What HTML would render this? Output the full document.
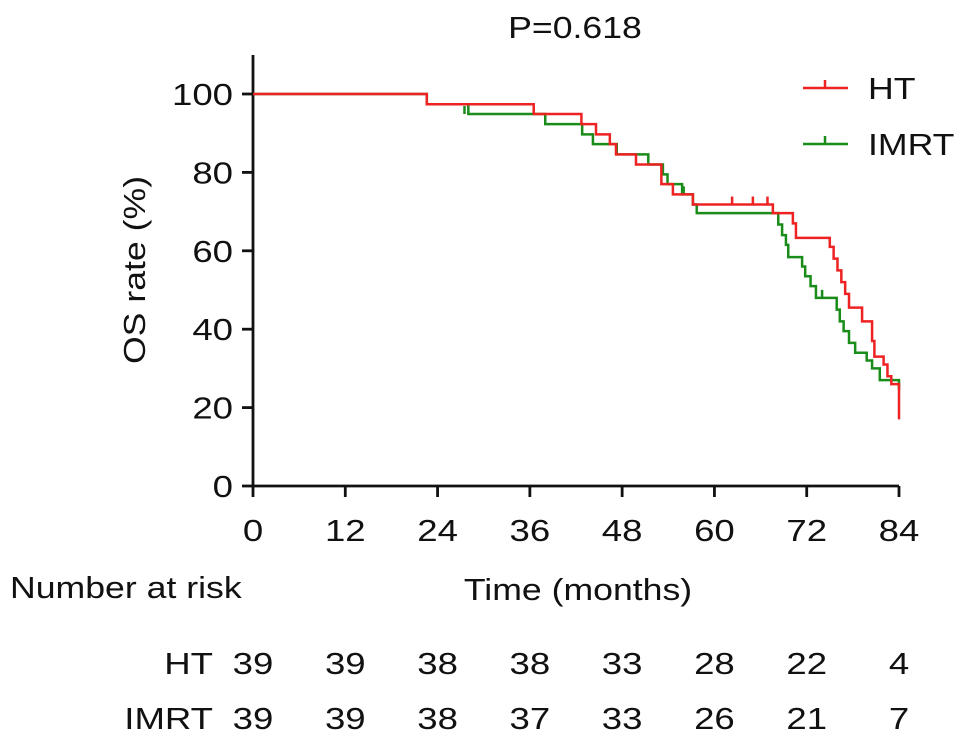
<!DOCTYPE html>
<html><head><meta charset="utf-8"><style>
body{margin:0;background:#fff}
svg text{font-family:"Liberation Sans",Arial,sans-serif;fill:#111}
</style></head><body>
<svg id="chart" width="969" height="741" viewBox="0 0 969 741" xmlns="http://www.w3.org/2000/svg">
<text transform="translate(575,38) scale(1.15,1)" font-size="31" text-anchor="middle">P=0.618</text>
<text transform="translate(145,270) rotate(-90) scale(1.15,1)" font-size="31" text-anchor="middle">OS rate (%)</text>
<text transform="translate(578,600) scale(1.15,1)" font-size="31" text-anchor="middle">Time (months)</text>
<text transform="translate(10,598) scale(1.15,1)" font-size="31">Number at risk</text>
<g id="axes"></g><g id="series"></g><g id="risk"></g>
<g>
<line x1="803" y1="88" x2="848" y2="88" stroke="#ee2222" stroke-width="2.5"/><line x1="825" y1="80" x2="825" y2="88" stroke="#ee2222" stroke-width="2.5"/>
<text transform="translate(868,99) scale(1.15,1)" font-size="31">HT</text>
<line x1="803" y1="144" x2="848" y2="144" stroke="#1a8c1a" stroke-width="2.5"/><line x1="825" y1="136" x2="825" y2="144" stroke="#1a8c1a" stroke-width="2.5"/>
<text transform="translate(868,155) scale(1.15,1)" font-size="31">IMRT</text>
</g>
</svg>
<script>
const xTicks=[0,12,24,36,48,60,72,84];
const yTicks=[0,20,40,60,80,100];
const htTimes=[0,22.6,36.5,42.7,44.6,46.4,47.2,49.8,53.1,54.6,57.2,67.6,70.2,70.6,75,75.5,76,76.5,77,77.5,79.2,80.5,80.8,82,82.5,83,84];
const htSurv=[100,97.4,94.9,92.3,89.7,87.2,84.6,82,77,74.4,71.8,69.6,67,63.3,61,58,55,52,49,45.5,42,37,33,31,28,26,17];
const htCensor=[[62.3,71.8],[65,71.8],[66.9,71.8]];
const imTimes=[0,22.6,28,38,42.8,44.2,47.3,51.4,53.3,53.9,55.8,57.2,57.7,68.3,68.8,69.3,69.6,71.4,71.8,72.5,73.2,75.9,76.3,76.8,77.5,78.3,79.8,80.5,81.5,84];
const imSurv=[100,97.4,94.9,92.3,89.7,87.2,84.6,82,79.5,77,74.4,71.8,69.6,66.7,64,61.5,58.4,56,53.5,51,48,45,42,39.5,36.5,34,32,30,27,24.5];
const imCensor=[[27.5,94.9],[56,74.4],[74,48]];
const riskHT=[39,39,38,38,33,28,22,4];
const riskIM=[39,39,38,37,33,26,21,7];
const NS="http://www.w3.org/2000/svg";
const X=t=>253+t*(899-253)/84, Y=v=>486-v*(486-94)/100;
function mk(tag,attrs,parent){const e=document.createElementNS(NS,tag);for(const k in attrs)e.setAttribute(k,attrs[k]);parent.appendChild(e);return e;}
function txt(parent,x,y,s,anchor){const t=mk('text',{transform:`translate(${x},${y}) scale(1.18,1)`,'font-size':31,'text-anchor':anchor},parent);t.textContent=s;return t;}
const axes=document.getElementById('axes');
let a=mk('path',{d:`M253,55V486H899`,fill:'none',stroke:'#111','stroke-width':2.8},axes);


xTicks.forEach(t=>{mk('line',{x1:X(t),x2:X(t),y1:486,y2:497,stroke:'#111','stroke-width':2.8},axes);
 const tx=txt(axes,X(t),541,t,'middle');
 
 });
yTicks.forEach(v=>{mk('line',{x1:242,x2:253,y1:Y(v),y2:Y(v),stroke:'#111','stroke-width':2.8},axes);
 const tx=txt(axes,233,Y(v)+11,v,'end');
 
 });
const ser=document.getElementById('series');
function curve(times,surv,cens,col,name){
 let d=`M${X(times[0])},${Y(surv[0])}`;
 for(let i=1;i<times.length;i++){d+=`H${X(times[i])}V${Y(surv[i])}`;}
 const p=mk('path',{d,fill:'none',stroke:col,'stroke-width':2.5},ser);
 
 
 cens.forEach(c=>{const l=mk('line',{x1:X(c[0]),x2:X(c[0]),y1:Y(c[1])-8,y2:Y(c[1]),stroke:col,'stroke-width':2.5},ser);
  
  });
}
curve(imTimes,imSurv,imCensor,'#1a8c1a','imrt');
curve(htTimes,htSurv,htCensor,'#ee2222','ht');
const risk=document.getElementById('risk');
[['HT',riskHT,674],['IMRT',riskIM,729]].forEach(([lab,arr,y])=>{
 const t=txt(risk,213,y,lab,'end');
 
 
 arr.forEach((n,i)=>{const tx=txt(risk,X(xTicks[i]),y,n,'middle');
  
  });
});
</script>
</body></html>
